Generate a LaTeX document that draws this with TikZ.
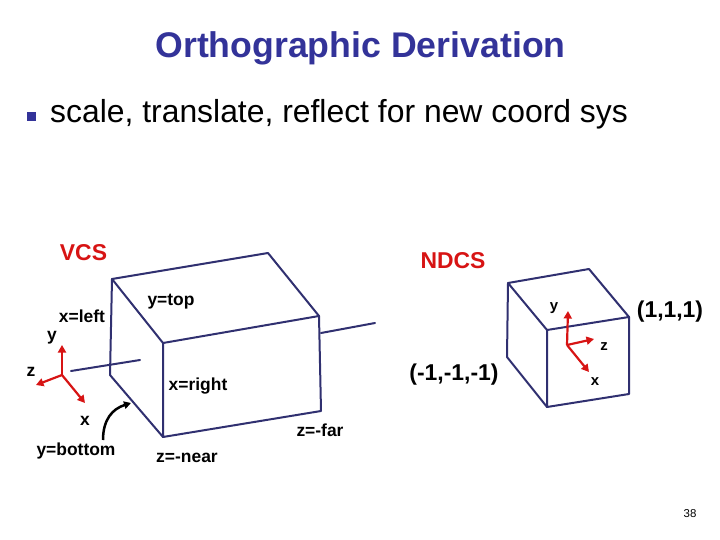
\documentclass[tikz,border=0pt]{standalone}
\usepackage{fontspec}
\setmainfont{Liberation Sans}
\usetikzlibrary{arrows.meta}
\definecolor{titleblue}{RGB}{51,51,153}
\definecolor{boxblue}{RGB}{48,48,112}
\definecolor{axred}{RGB}{215,20,20}
\begin{document}
\begin{tikzpicture}[x=1bp,y=-1bp,
  lbl/.style={inner sep=0pt,font=\fontsize{17.5}{20}\selectfont\bfseries},
  small/.style={inner sep=0pt,font=\fontsize{15}{18}\selectfont\bfseries},
  big/.style={inner sep=0pt,font=\fontsize{23}{26}\selectfont\bfseries},
  sysname/.style={big,text=axred},
  edge/.style={draw=boxblue,line width=2bp,line join=round,line cap=round},
  ax/.style={draw=axred,line width=2.2bp,-{Triangle[length=7.5bp,width=8bp]}},
]
\useasboundingbox (0,0) rectangle (720,540);

% title and bullet
\node[anchor=base,text=titleblue,inner sep=0pt,
      font=\fontsize{35.8}{40}\selectfont\bfseries] (title) at (360.5,58) {Orthographic Derivation};
\node[fill=titleblue,minimum size=9bp,inner sep=0pt] (bul) at (31.5,116.5) {};
\node[anchor=base west,inner sep=0pt,font=\fontsize{32}{36}\selectfont] (btext) at (50,123)
  {scale, translate, reflect for new coord sys};

% system names
\node[sysname] (vcs) at (83.5,253) {VCS};
\node[sysname] (ndcs) at (453,261) {NDCS};

% VCS box
\coordinate (A) at (112,279);
\coordinate (B) at (268,253);
\coordinate (C) at (319,316);
\coordinate (D) at (163,343);
\coordinate (E) at (163,437);
\coordinate (F) at (321,411);
\coordinate (G) at (110,375);
\draw[edge] (A) -- (B) -- (C) -- (D) -- cycle;
\draw[edge] (D) -- (E) -- (F) -- (C);
\draw[edge] (A) -- (G) -- (E);

% view axis through the box
\coordinate (za1) at (71,371);
\coordinate (za2) at (140,360);
\coordinate (za3) at (321,333);
\coordinate (za4) at (375,323);
\draw[edge] (za1) -- (za2);
\draw[edge] (za3) -- (za4);

% VCS axes
\coordinate (vo) at (62,375);
\draw[ax] (vo) -- (62,345);
\draw[ax] (vo) -- (36,385);
\draw[ax] (vo) -- (85,403);
\node[lbl] (vy) at (52,338) {y};
\node[lbl] (vz) at (31,372) {z};
\node[lbl] (vx) at (85,421) {x};

% VCS labels
\node[lbl] (ytop) at (171,302) {y=top};
\node[lbl] (xleft) at (82,316.5) {x=left};
\node[lbl] (xright) at (198,386) {x=right};
\node[lbl] (ybot) at (76,451) {y=bottom};
\node[lbl] (znear) at (187,458) {z=-near};
\node[lbl] (zfar) at (320,430) {z=-far};

% curved pointer
\coordinate (cs) at (103,440);
\coordinate (ce) at (131,403);
\draw[line width=2.5bp,-{Triangle[length=7bp,width=7.5bp]}] (cs) .. controls (103,420) and (112,409) .. (ce);

% NDCS cube
\coordinate (P) at (508,283);
\coordinate (Q) at (589,269);
\coordinate (R) at (629,317);
\coordinate (S) at (547,330);
\coordinate (T) at (547,407);
\coordinate (U) at (629,394);
\coordinate (V) at (507,357);
\draw[edge] (P) -- (Q) -- (R) -- (S) -- cycle;
\draw[edge] (S) -- (T) -- (U) -- (R);
\draw[edge] (P) -- (V) -- (T);

% NDCS axes
\coordinate (no) at (567,345);
\draw[ax] (no) -- (568,311);
\draw[ax] (no) -- (594,339);
\draw[ax] (no) -- (589,372);
\node[small] (ny) at (554,308) {y};
\node[small] (nz) at (604,347) {z};
\node[small] (nx) at (595,382) {x};

\node[big] (p111) at (670,312) {(1,1,1)};
\node[big] (m111) at (454,375) {(-1,-1,-1)};

% page number
\node[inner sep=0pt,font=\fontsize{11.5}{13}\selectfont] (pg) at (690,514) {38};
\end{tikzpicture}
\end{document}
